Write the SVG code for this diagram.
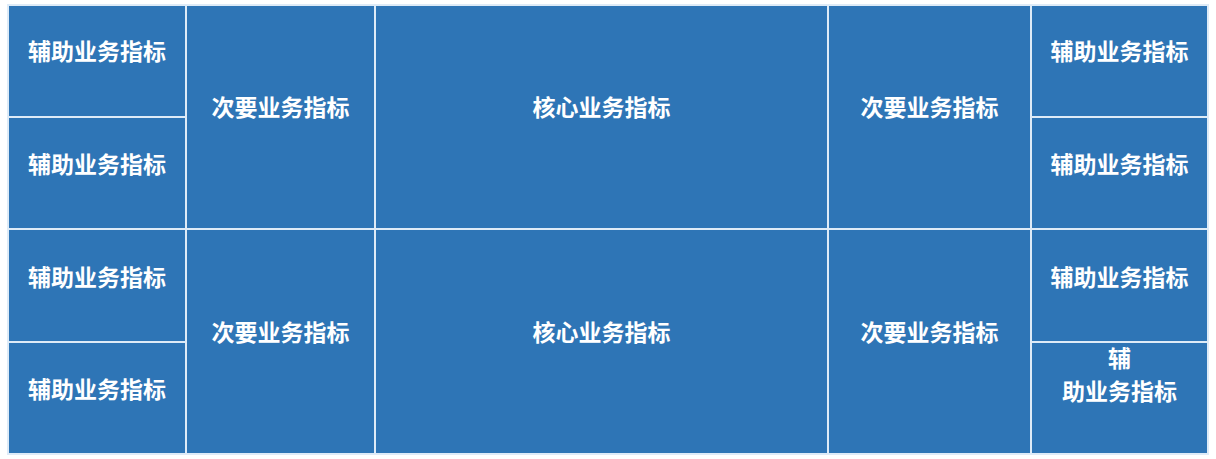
<svg xmlns="http://www.w3.org/2000/svg" width="1216" height="459" viewBox="0 0 1216 459">
<style>
.c{fill:#2e75b6;stroke:#deebf7;stroke-width:2}
.t{fill:#ffffff;font-family:"Noto Sans CJK SC","Microsoft YaHei",sans-serif;font-weight:bold;font-size:23px;text-anchor:middle}
</style>
<rect x="0" y="0" width="1216" height="459" fill="#ffffff"/>
<g id="aux-l1"><rect class="c" x="8" y="5" width="178" height="112"/><text class="t" x="97" y="60">辅助业务指标</text></g>
<g id="aux-l2"><rect class="c" x="8" y="117" width="178" height="112"/><text class="t" x="97" y="173">辅助业务指标</text></g>
<g id="aux-l3"><rect class="c" x="8" y="229" width="178" height="113"/><text class="t" x="97" y="286">辅助业务指标</text></g>
<g id="aux-l4"><rect class="c" x="8" y="342" width="178" height="112"/><text class="t" x="97" y="398">辅助业务指标</text></g>
<g id="sec-l1"><rect class="c" x="186" y="5" width="189" height="224"/><text class="t" x="280.5" y="116">次要业务指标</text></g>
<g id="sec-l2"><rect class="c" x="186" y="229" width="189" height="225"/><text class="t" x="280.5" y="341">次要业务指标</text></g>
<g id="core-1"><rect class="c" x="375" y="5" width="453" height="224"/><text class="t" x="601.5" y="116">核心业务指标</text></g>
<g id="core-2"><rect class="c" x="375" y="229" width="453" height="225"/><text class="t" x="601.5" y="341">核心业务指标</text></g>
<g id="sec-r1"><rect class="c" x="828" y="5" width="203" height="224"/><text class="t" x="929.5" y="116">次要业务指标</text></g>
<g id="sec-r2"><rect class="c" x="828" y="229" width="203" height="225"/><text class="t" x="929.5" y="341">次要业务指标</text></g>
<g id="aux-r1"><rect class="c" x="1031" y="5" width="177" height="112"/><text class="t" x="1119.5" y="60">辅助业务指标</text></g>
<g id="aux-r2"><rect class="c" x="1031" y="117" width="177" height="112"/><text class="t" x="1119.5" y="173">辅助业务指标</text></g>
<g id="aux-r3"><rect class="c" x="1031" y="229" width="177" height="113"/><text class="t" x="1119.5" y="286">辅助业务指标</text></g>
<g id="aux-r4"><rect class="c" x="1031" y="342" width="177" height="112"/><text class="t" x="1119.5" y="367">辅</text><text class="t" x="1119.5" y="400">助业务指标</text></g>
<g id="connectors"></g>
</svg>
